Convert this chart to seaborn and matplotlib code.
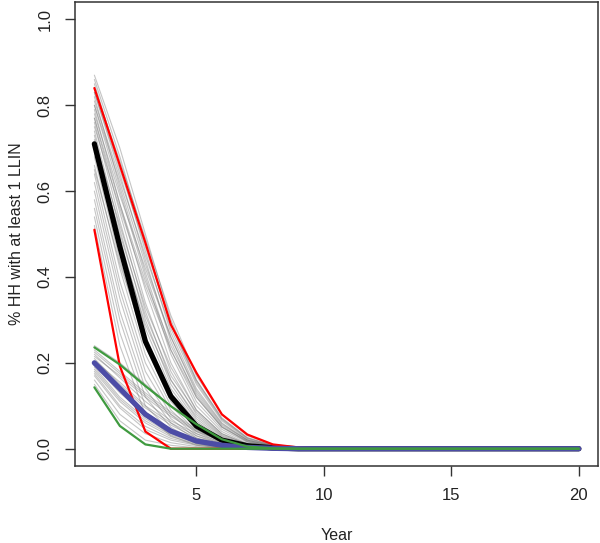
import matplotlib
matplotlib.use("Agg")
import matplotlib.pyplot as plt
import seaborn as sns
import numpy as np
import pandas as pd

years = list(range(1, 21))

# simulation traces (values read for years 1..9, zero afterwards)
sims_high = [
    [0.87, 0.70, 0.50, 0.30, 0.16, 0.07, 0.025, 0.008, 0.002],
    [0.85, 0.66, 0.46, 0.27, 0.14, 0.06, 0.02, 0.006, 0.001],
    [0.83, 0.64, 0.44, 0.25, 0.12, 0.05, 0.018, 0.005, 0],
    [0.82, 0.61, 0.41, 0.23, 0.11, 0.045, 0.015, 0.004, 0],
    [0.80, 0.60, 0.40, 0.22, 0.10, 0.04, 0.012, 0.003, 0],
    [0.79, 0.57, 0.37, 0.20, 0.09, 0.035, 0.01, 0.002, 0],
    [0.77, 0.55, 0.34, 0.18, 0.08, 0.03, 0.008, 0.002, 0],
    [0.76, 0.53, 0.32, 0.16, 0.07, 0.025, 0.007, 0.001, 0],
    [0.74, 0.51, 0.30, 0.15, 0.065, 0.022, 0.006, 0, 0],
    [0.73, 0.49, 0.28, 0.14, 0.06, 0.02, 0.005, 0, 0],
    [0.70, 0.46, 0.26, 0.12, 0.05, 0.017, 0.004, 0, 0],
    [0.68, 0.44, 0.24, 0.11, 0.045, 0.015, 0.003, 0, 0],
    [0.66, 0.42, 0.22, 0.10, 0.04, 0.012, 0.003, 0, 0],
    [0.64, 0.39, 0.20, 0.09, 0.035, 0.01, 0.002, 0, 0],
    [0.62, 0.37, 0.18, 0.08, 0.03, 0.008, 0.002, 0, 0],
    [0.60, 0.35, 0.16, 0.07, 0.025, 0.007, 0.001, 0, 0],
    [0.58, 0.32, 0.14, 0.06, 0.02, 0.005, 0, 0, 0],
    [0.56, 0.30, 0.12, 0.05, 0.015, 0.004, 0, 0, 0],
    [0.54, 0.27, 0.10, 0.04, 0.012, 0.003, 0, 0, 0],
    [0.52, 0.24, 0.08, 0.03, 0.008, 0.002, 0, 0, 0],
    [0.84, 0.67, 0.49, 0.31, 0.17, 0.08, 0.03, 0.01, 0.003],
    [0.81, 0.63, 0.45, 0.28, 0.15, 0.065, 0.022, 0.007, 0.002],
    [0.78, 0.59, 0.42, 0.26, 0.13, 0.055, 0.02, 0.006, 0.001],
    [0.75, 0.56, 0.38, 0.23, 0.12, 0.05, 0.016, 0.004, 0],
    [0.72, 0.52, 0.33, 0.19, 0.09, 0.035, 0.011, 0.003, 0],
    [0.69, 0.48, 0.29, 0.16, 0.075, 0.028, 0.008, 0.002, 0],
    [0.86, 0.68, 0.48, 0.29, 0.155, 0.068, 0.024, 0.007, 0.001],
    [0.83, 0.65, 0.47, 0.29, 0.16, 0.072, 0.026, 0.008, 0.002],
    [0.80, 0.62, 0.43, 0.26, 0.135, 0.058, 0.02, 0.006, 0.001],
    [0.77, 0.57, 0.39, 0.24, 0.125, 0.052, 0.017, 0.005, 0],
    [0.71, 0.50, 0.31, 0.17, 0.085, 0.032, 0.01, 0.003, 0],
    [0.65, 0.43, 0.25, 0.13, 0.06, 0.022, 0.006, 0.001, 0],
]
sims_low = [
    [0.24, 0.20, 0.15, 0.10, 0.06, 0.025, 0.008, 0.002, 0],
    [0.23, 0.18, 0.13, 0.085, 0.045, 0.02, 0.006, 0.001, 0],
    [0.22, 0.165, 0.11, 0.065, 0.035, 0.015, 0.005, 0, 0],
    [0.21, 0.15, 0.095, 0.055, 0.025, 0.01, 0.003, 0, 0],
    [0.20, 0.14, 0.085, 0.045, 0.02, 0.008, 0.002, 0, 0],
    [0.19, 0.12, 0.07, 0.035, 0.015, 0.005, 0.001, 0, 0],
    [0.18, 0.11, 0.06, 0.028, 0.012, 0.004, 0, 0, 0],
    [0.17, 0.095, 0.045, 0.02, 0.008, 0.002, 0, 0, 0],
    [0.16, 0.08, 0.035, 0.014, 0.005, 0.001, 0, 0, 0],
    [0.15, 0.065, 0.02, 0.008, 0.002, 0, 0, 0, 0],
    [0.215, 0.17, 0.12, 0.075, 0.04, 0.018, 0.006, 0.001, 0],
    [0.195, 0.13, 0.08, 0.04, 0.018, 0.007, 0.002, 0, 0],
    [0.225, 0.175, 0.125, 0.08, 0.042, 0.018, 0.005, 0.001, 0],
    [0.175, 0.10, 0.052, 0.024, 0.01, 0.003, 0, 0, 0],
    [0.205, 0.155, 0.10, 0.06, 0.03, 0.012, 0.004, 0, 0],
    [0.185, 0.115, 0.065, 0.032, 0.014, 0.005, 0.001, 0, 0],
]

median_high = [0.71, 0.47, 0.25, 0.122, 0.053, 0.02, 0.007, 0.002, 0]
upper_high = [0.84, 0.66, 0.48, 0.289, 0.177, 0.08, 0.033, 0.01, 0.003]
lower_high = [0.51, 0.192, 0.04, 0, 0, 0, 0, 0, 0]
median_low = [0.20, 0.14, 0.08, 0.041, 0.018, 0.008, 0.003, 0.001, 0]
upper_low = [0.236, 0.196, 0.146, 0.099, 0.057, 0.022, 0.005, 0.001, 0]
lower_low = [0.143, 0.053, 0.01, 0, 0, 0, 0, 0, 0]


def pad(v):
    return list(v) + [0] * (len(years) - len(v))


rows = []
for i, s in enumerate(sims_high + sims_low):
    for yr, v in zip(years, pad(s)):
        rows.append((i, yr, v))
df = pd.DataFrame(rows, columns=["sim", "year", "value"])

sns.set_style("ticks")
plt.rcParams["font.family"] = ["Liberation Sans", "DejaVu Sans"]

fig = plt.figure(figsize=(6, 5.43), dpi=100)
ax = fig.add_axes([0.125, 0.142, 0.872, 0.854])

sns.lineplot(data=df, x="year", y="value", units="sim", estimator=None,
             color="#6e6e6e", alpha=0.4, lw=0.8, ax=ax)

sns.lineplot(x=years, y=pad(median_high), color="black", lw=3.8, ax=ax)
sns.lineplot(x=years, y=pad(upper_high), color="#ff0000", lw=1.6, ax=ax)
sns.lineplot(x=years, y=pad(lower_high), color="#ff0000", lw=1.6, ax=ax)
sns.lineplot(x=years, y=pad(median_low), color="#4c4ca6", lw=3.8, ax=ax)
sns.lineplot(x=years, y=pad(upper_low), color="#3f9a3f", lw=1.6, ax=ax)
sns.lineplot(x=years, y=pad(lower_low), color="#3f9a3f", lw=1.6, ax=ax)

ax.set_xlim(0.24, 20.76)
ax.set_ylim(-0.04, 1.04)
ax.set_xticks([5, 10, 15, 20])
ax.set_yticks([0.0, 0.2, 0.4, 0.6, 0.8, 1.0])
ax.set_yticklabels(["0.0", "0.2", "0.4", "0.6", "0.8", "1.0"], rotation=90, va="center")
ax.tick_params(axis="both", direction="out", length=7, width=1, labelsize=12,
               color="#333333", labelcolor="#222222", pad=9)
for sp in ax.spines.values():
    sp.set_visible(True)
    sp.set_linewidth(1.1)
    sp.set_color("#333333")
ax.set_xlabel("Year", fontsize=11.5, labelpad=18, color="#222222")
ax.set_ylabel("% HH with at least 1 LLIN", fontsize=11.5, labelpad=10, color="#222222")

fig.savefig("out.png", dpi=100)
